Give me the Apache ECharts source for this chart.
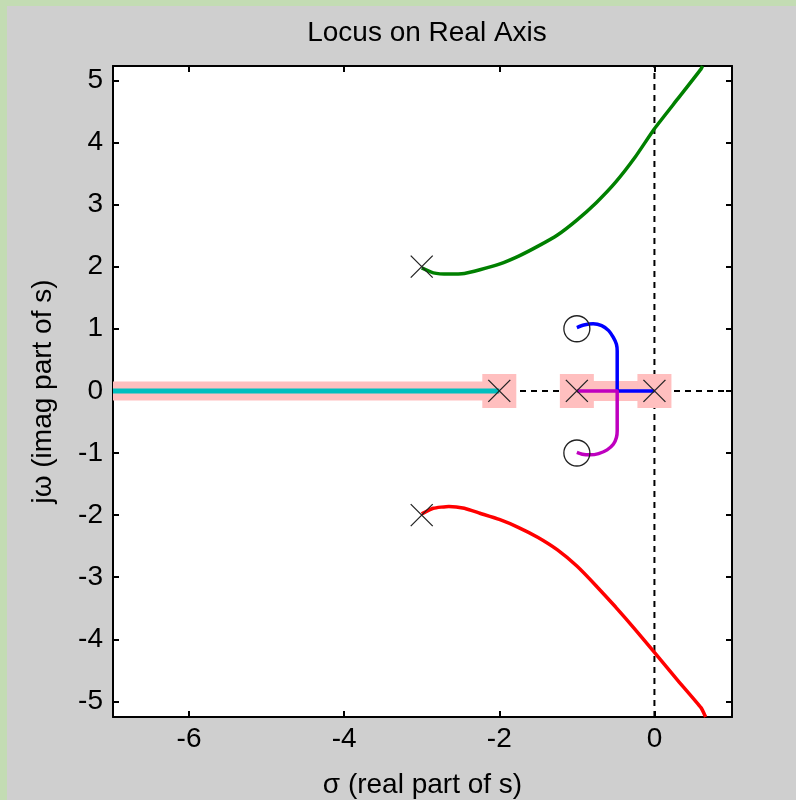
<!DOCTYPE html>
<html>
<head>
<meta charset="utf-8">
<script src="https://cdn.jsdelivr.net/npm/echarts@6/dist/echarts.min.js"></script>
<style>
  html, body { margin: 0; padding: 0; }
  body { width: 796px; height: 800px; background: #c3dcb3; position: relative; overflow: hidden; }
  .panel { position: absolute; left: 7px; top: 6px; right: 0; bottom: 0; background: #cfcfcf; }
  #chart { position: absolute; left: 0; top: 0; width: 796px; height: 800px; }
</style>
</head>
<body>
<div class="panel"></div>
<div id="chart"></div>
<script>
// tick labels
const xTicks = [-6, -4, -2, 0]
const yTicks = [-5, -4, -3, -2, -1, 0, 1, 2, 3, 4, 5]

// open-loop poles (x) and zeros (o)
const poleX = [0, -1, -2, -3, -3]
const poleY = [0, 0, 0, 2, -2]
const zeroX = [-1, -1]
const zeroY = [1, -1]

// real-axis highlight (pink boxes on the real-axis poles)
const highlightX = [-2, -1, 0]

// branch from -3+2j
const greenX = [-3.0, -2.85, -2.65, -2.45, -2.25, -2.0, -1.75, -1.5, -1.25, -1.0, -0.75, -0.5, -0.25, 0.0, 0.3, 0.6, 0.62]
const greenY = [1.98, 1.90, 1.88, 1.89, 1.95, 2.04, 2.17, 2.33, 2.51, 2.75, 3.03, 3.36, 3.76, 4.22, 4.70, 5.18, 5.23]

// branch from -3-2j
const redX = [-3.0, -2.85, -2.65, -2.45, -2.25, -2.0, -1.75, -1.5, -1.25, -1.0, -0.75, -0.5, -0.25, 0.0, 0.3, 0.6, 0.66]
const redY = [-1.98, -1.89, -1.86, -1.89, -1.97, -2.07, -2.20, -2.36, -2.56, -2.82, -3.14, -3.48, -3.84, -4.21, -4.66, -5.10, -5.25]

// branch from 0 to zero at -1+j
const blueX = [0, -0.48, -0.48, -0.49, -0.53, -0.59, -0.68, -0.79, -0.91, -1.0]
const blueY = [0, 0, 0.64, 0.75, 0.86, 0.97, 1.05, 1.08, 1.06, 1.02]

// branch from -1 to zero at -1-j
const magentaX = [-1, -0.48, -0.48, -0.49, -0.53, -0.61, -0.72, -0.83, -0.93, -1.0]
const magentaY = [0, 0, -0.64, -0.75, -0.86, -0.95, -1.01, -1.03, -1.02, -0.99]

// branch from -2 towards -infinity (cut at the left axis limit)
const cyanX = [-2, -6.98]
const cyanY = [0, 0]

const pts = (xs, ys) => xs.map((x, i) => [x, ys[i]])

const font = 'Liberation Sans, Arial, sans-serif'
const X_MIN = -6.98, X_MAX = 1.0
const Y_MIN = -5.25, Y_MAX = 5.23

const chart = echarts.init(document.getElementById('chart'), null, { renderer: 'canvas' })

const lineSeries = (data, color, width, extra) => Object.assign({
  type: 'line',
  data,
  symbol: 'none',
  silent: true,
  animation: false,
  z: 2,
  lineStyle: { color, width, cap: 'butt', join: 'round' },
}, extra || {})

chart.setOption({
  backgroundColor: 'transparent',
  animation: false,
  title: {
    text: 'Locus on Real Axis',
    left: 422,
    textAlign: 'center',
    top: 14,
    textStyle: { fontFamily: font, fontSize: 28, fontWeight: 'normal', color: '#000' },
  },
  grid: {
    left: 113, right: 64, top: 66, bottom: 83,
    outerBoundsMode: 'none', containLabel: false,
    show: true, backgroundColor: '#fff', borderWidth: 0,
  },
  xAxis: [
    {
      type: 'value', min: X_MIN, max: X_MAX,
      name: 'σ (real part of s)', nameLocation: 'middle', nameGap: 54,
      nameTextStyle: { fontFamily: font, fontSize: 28, color: '#000' },
      axisLine: { onZero: false, lineStyle: { color: '#000', width: 2 } },
      axisTick: { inside: true, length: 6, customValues: xTicks, lineStyle: { color: '#000', width: 2 } },
      axisLabel: { customValues: xTicks, fontFamily: font, fontSize: 28, color: '#000', margin: 8 },
      splitLine: { show: false },
    },
    {
      type: 'value', min: X_MIN, max: X_MAX, position: 'top',
      axisLine: { onZero: false, lineStyle: { color: '#000', width: 2 } },
      axisTick: { inside: true, length: 6, customValues: xTicks, lineStyle: { color: '#000', width: 2 } },
      axisLabel: { show: false },
      splitLine: { show: false },
    },
  ],
  yAxis: [
    {
      type: 'value', min: Y_MIN, max: Y_MAX,
      name: 'jω (imag part of s)', nameLocation: 'middle', nameGap: 56, nameRotate: 90,
      nameTextStyle: { fontFamily: font, fontSize: 28, color: '#000' },
      axisLine: { onZero: false, lineStyle: { color: '#000', width: 2 } },
      axisTick: { inside: true, length: 6, customValues: yTicks, lineStyle: { color: '#000', width: 2 } },
      axisLabel: { customValues: yTicks, fontFamily: font, fontSize: 28, color: '#000', margin: 10 },
      splitLine: { show: false },
    },
    {
      type: 'value', min: Y_MIN, max: Y_MAX, position: 'right',
      axisLine: { onZero: false, lineStyle: { color: '#000', width: 2 } },
      axisTick: { inside: true, length: 6, customValues: yTicks, lineStyle: { color: '#000', width: 2 } },
      axisLabel: { show: false },
      splitLine: { show: false },
    },
  ],
  series: [
    // dashed axes
    lineSeries([[X_MIN, 0], [X_MAX, 0]], '#000', 2, { z: 1, lineStyle: { color: '#000', width: 2, type: [6, 5] } }),
    lineSeries([[0, Y_MIN], [0, Y_MAX]], '#000', 2, { z: 1, lineStyle: { color: '#000', width: 2, type: [6, 5] } }),
    // pink real-axis highlight
    lineSeries(pts(cyanX, cyanY), '#ffbfbf', 19, { z: 2 }),
    lineSeries([[highlightX[1], 0], [highlightX[2], 0]], '#ffbfbf', 20, { z: 2 }),
    {
      type: 'scatter', silent: true, animation: false, z: 3,
      symbol: 'rect', symbolSize: 34,
      itemStyle: { color: '#ffbfbf', opacity: 1 },
      data: highlightX.map((x) => [x, 0]),
    },
    // locus branches
    lineSeries(pts(cyanX, cyanY), '#00bfbf', 5, { z: 4 }),
    lineSeries(pts(greenX, greenY), '#008000', 3.5, { z: 4, smooth: 0.15 }),
    lineSeries(pts(redX, redY), '#ff0000', 3.5, { z: 4, smooth: 0.15 }),
    lineSeries(pts(blueX, blueY), '#0000ff', 3.5, { z: 4, smooth: 0.2 }),
    lineSeries(pts(magentaX, magentaY), '#bf00bf', 3.5, { z: 4, smooth: 0.2 }),
    // poles and zeros
    {
      type: 'scatter', silent: true, animation: false, z: 10,
      symbol: 'path://M0,0L10,10M10,0L0,10', symbolSize: 22,
      itemStyle: { color: 'none', borderColor: '#222', borderWidth: 1.3, opacity: 1 },
      data: pts(poleX, poleY),
    },
    {
      type: 'scatter', silent: true, animation: false, z: 10,
      symbol: 'circle', symbolSize: 26,
      itemStyle: { color: 'none', borderColor: '#222', borderWidth: 1.3, opacity: 1 },
      data: pts(zeroX, zeroY),
    },
  ],
})
</script>
</body>
</html>
